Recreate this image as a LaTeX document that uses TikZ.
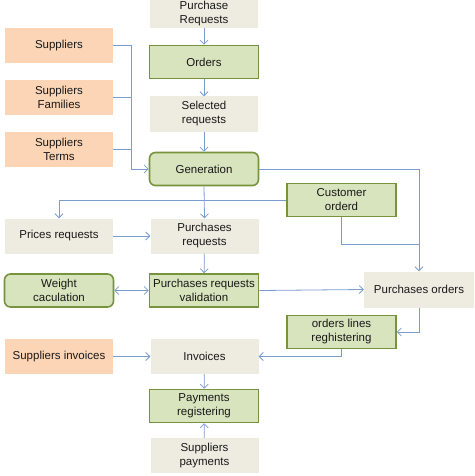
\documentclass[tikz,border=0pt]{standalone}
\usepackage{fontspec}
\setmainfont{Liberation Sans}
\usetikzlibrary{arrows.meta}
\definecolor{boxgrey}{HTML}{EEECE1}
\definecolor{boxorange}{HTML}{FBD5B5}
\definecolor{boxgreen}{HTML}{D7E4BD}
\definecolor{edgegreen}{HTML}{77933C}
\definecolor{linkblue}{HTML}{7B9CCE}
\begin{document}
\begin{tikzpicture}[x=1pt, y=-1pt, font=\fontsize{11.5}{14}\selectfont, text=black!90,
    base/.style = {align=center, inner sep=1pt, minimum width=108pt, minimum height=35pt},
    plain/.style = {base, fill=boxgrey},
    supp/.style = {base, fill=boxorange},
    task/.style = {base, fill=boxgreen, draw=edgegreen, line width=1.6pt, minimum width=109pt, minimum height=33pt},
    taskr/.style = {task, rounded corners=6pt},
    link/.style = {draw=linkblue, line width=0.8pt},
    arr/.style = {link, -{Straight Barb[length=4pt, width=8pt]}},
    arrs/.style = {link, {Straight Barb[length=4pt, width=8pt]}-{Straight Barb[length=4pt, width=8pt]}}]
    \useasboundingbox (0,0) rectangle (474,476);
	\node [plain] (0) at (204, 14) [minimum height=28pt] {Purchase\\Requests};
	\node [supp] (1) at (59, 45.5) {Suppliers};
	\node [task] (2) at (204, 62) {Orders};
	\node [supp] (3) at (59, 97.5) {Suppliers\\Families};
	\node [plain] (4) at (204, 114) {Selected\\requests};
	\node [supp] (5) at (59, 149) {Suppliers\\Terms};
	\node [taskr] (6) at (204, 169) {Generation};
	\node [task] (7) at (341.5, 200) {Customer\\orderd};
	\node [plain] (8) at (59, 236) {Prices requests};
	\node [plain] (9) at (204.5, 236) {Purchases\\requests};
	\node [taskr] (10) at (59, 290.5) {Weight\\caculation};
	\node [task] (11) at (204, 290.5) {Purchases requests\\validation};
	\node [plain] (12) at (419, 289.5) [minimum width=110pt, minimum height=36pt] {Purchases orders};
	\node [task] (13) at (341.5, 332) {orders lines\\reghistering};
	\node [supp] (14) at (59, 356.5) {Suppliers invoices};
	\node [plain] (15) at (204.5, 356.5) {Invoices};
	\node [task] (16) at (204, 406) {Payments\\registering};
	\node [plain] (17) at (204.5, 455.5) {Suppliers\\payments};

    \coordinate (bus) at (131, 0);
    \coordinate (join) at (419, 244);

    \draw[arr] (0) -- (2);
    \draw[arr] (2) -- (4);
    \draw[arr] (4) -- (6);
    \draw[arr] (1.east) -- (1.east -| bus) -- (6.west -| bus) -- (6.west);
    \draw[link] (3.east) -- (3.east -| bus);
    \draw[link] (5.east) -- (5.east -| bus);
    \draw[arr] (6.east) -| (12.north);
    \draw[link] (7.south) |- (join);
    \draw[arr] (7.west) -| (8.north);
    \draw[arr] (6.south) -- (9.north);
    \draw[arr] (8) -- (9);
    \draw[arr] (9) -- (11);
    \draw[arrs] (10) -- (11);
    \draw[arr] (11.east) -- (12.west);
    \draw[arr] (12.south) |- (13.east);
    \draw[arr] (13.south) |- (15.east);
    \draw[arr] (14) -- (15);
    \draw[arr] (15) -- (16);
    \draw[arr] (17) -- (16);

\end{tikzpicture}
\end{document}
